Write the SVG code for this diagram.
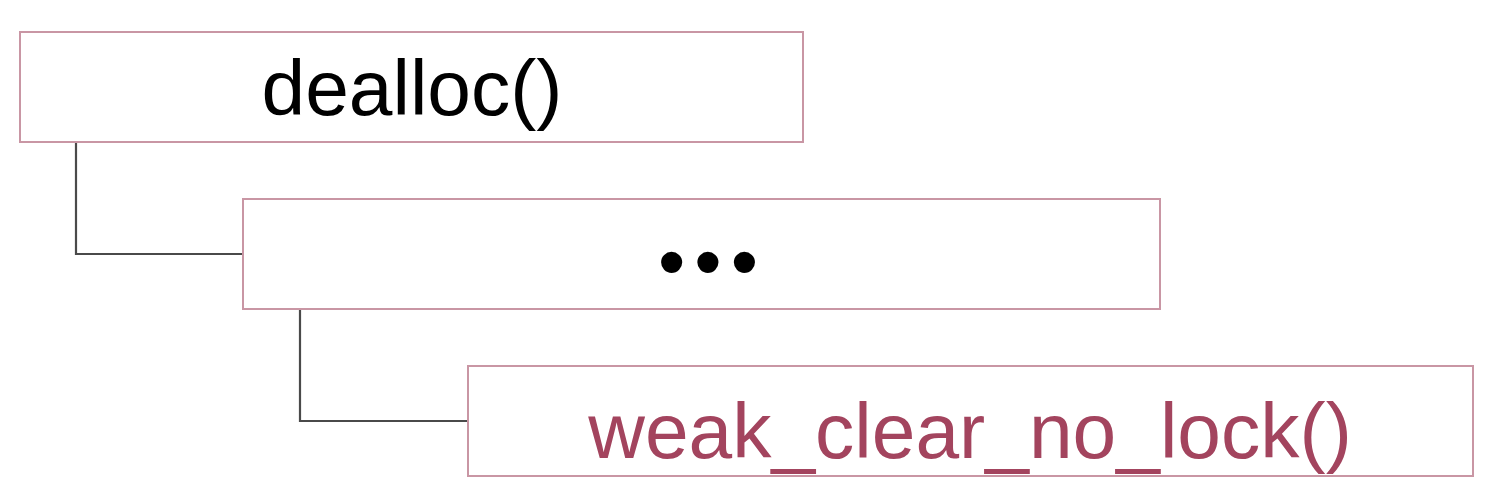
<svg xmlns="http://www.w3.org/2000/svg" width="1494" height="504" viewBox="0 0 1494 504">
<style>
.box{fill:#ffffff;stroke:#c996a4;stroke-width:2}
.conn{fill:none;stroke:#4a4a4a;stroke-width:2.2}
.t{font-family:"Liberation Sans",Arial,sans-serif;text-anchor:middle}
</style>
<rect width="1494" height="504" fill="#ffffff"/>
<g id="connectors">
<path class="conn" d="M76,142 V254 H243"/>
<path class="conn" d="M300,309 V421 H468"/>
</g>
<g id="node-dealloc">
<rect class="box" x="20" y="32" width="783" height="110"/>
<text class="t" x="412" y="115" font-size="78.5" fill="#000000">dealloc()</text>
</g>
<g id="node-ellipsis">
<rect class="box" x="243" y="199" width="917" height="110"/>
<text class="t" x="712.5" y="288" font-size="78" letter-spacing="9" fill="#000000">•••</text>
</g>
<g id="node-weak-clear">
<rect class="box" x="468" y="366" width="1005" height="110"/>
<text class="t" x="970" y="458" font-size="78.5" fill="#a3445e">weak_clear_no_lock()</text>
</g>
</svg>
